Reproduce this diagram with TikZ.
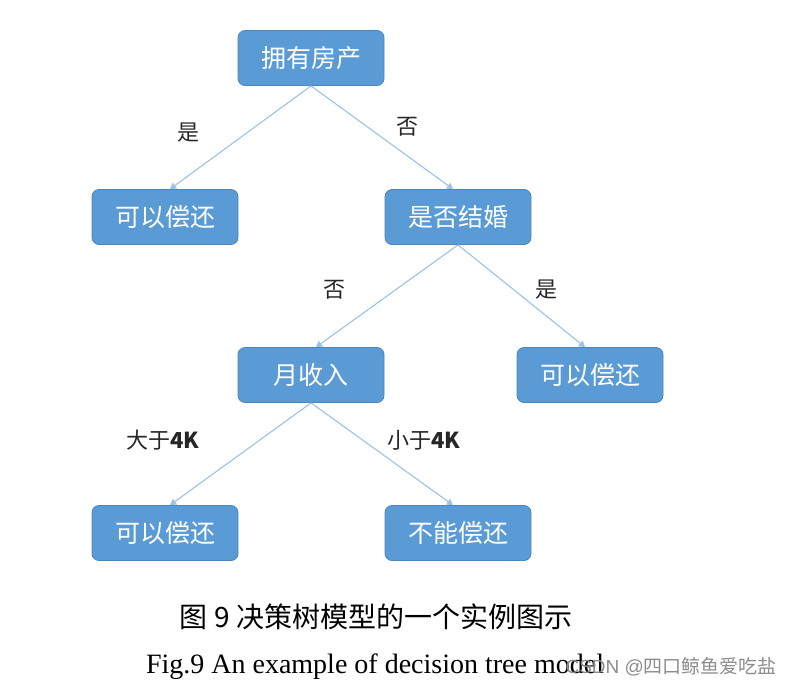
\documentclass[tikz,border=0pt]{standalone}
\usepackage{fontspec}
\setmainfont{Liberation Serif}
\newfontfamily\cjk{Noto Sans CJK SC}
\newfontfamily\wmfont{Liberation Sans}
\usetikzlibrary{arrows.meta}

\definecolor{boxBlue}{HTML}{5B9BD5}
\definecolor{boxEdge}{HTML}{4A86C0}
\definecolor{lineBlue}{HTML}{9CC2E5}
\definecolor{wmGray}{HTML}{8C8C8C}

\begin{document}
\begin{tikzpicture}[x=1pt,y=-1pt,
  treebox/.style={draw=boxEdge,line width=0.8pt,fill=boxBlue,rounded corners=7pt,
    minimum width=146pt,minimum height=55pt,inner sep=0pt,
    text=white,font=\cjk\fontsize{25}{27}\selectfont},
  branch/.style={draw=lineBlue,line width=1.1pt,-{Triangle[length=6pt,width=7pt]}},
  edgelabel/.style={font=\cjk\fontsize{22}{24}\selectfont,text=black!85}]

  \useasboundingbox (0,0) rectangle (791,691);

  % Nodes
  \node[treebox] (house)   at (311,58)  {拥有房产};
  \node[treebox] (payA)    at (165,217) {可以偿还};
  \node[treebox] (married) at (458,217) {是否结婚};
  \node[treebox] (income)  at (311,375) {月收入};
  \node[treebox] (payB)    at (590,375) {可以偿还};
  \node[treebox] (payC)    at (165,533) {可以偿还};
  \node[treebox] (nopay)   at (458,533) {不能偿还};

  % Branches
  \draw[branch] (house.south)   -- ([xshift=5pt]payA.north);
  \draw[branch] (house.south)   -- ([xshift=-5pt]married.north);
  \draw[branch] (married.south) -- ([xshift=5pt]income.north);
  \draw[branch] (married.south) -- ([xshift=-5pt]payB.north);
  \draw[branch] (income.south)  -- ([xshift=5pt]payC.north);
  \draw[branch] (income.south)  -- ([xshift=-5pt]nopay.north);

  % Branch labels
  \node[edgelabel] (yesA) at (188,133) {是};
  \node[edgelabel] (noA)  at (407,127) {否};
  \node[edgelabel] (noB)  at (334,290) {否};
  \node[edgelabel] (yesB) at (546,290) {是};
  \node[edgelabel] (gt4k) at (163,440) {大于\textbf{4K}};
  \node[edgelabel] (lt4k) at (424,440) {小于\textbf{4K}};

  % Caption
  \node[font=\cjk\fontsize{28}{30}\selectfont] (capcn) at (376,617)
    {图 9 决策树模型的一个实例图示};
  \node[font=\fontsize{28}{30}\selectfont] (capen) at (375,667)
    {Fig.9 An example of decision tree model};

  % Watermark
  \node[anchor=west,text=wmGray,font=\wmfont\fontsize{19}{21}\selectfont] (mark) at (562,667)
    {CSDN @{\cjk 四口鲸鱼爱吃盐}};

\end{tikzpicture}
\end{document}
